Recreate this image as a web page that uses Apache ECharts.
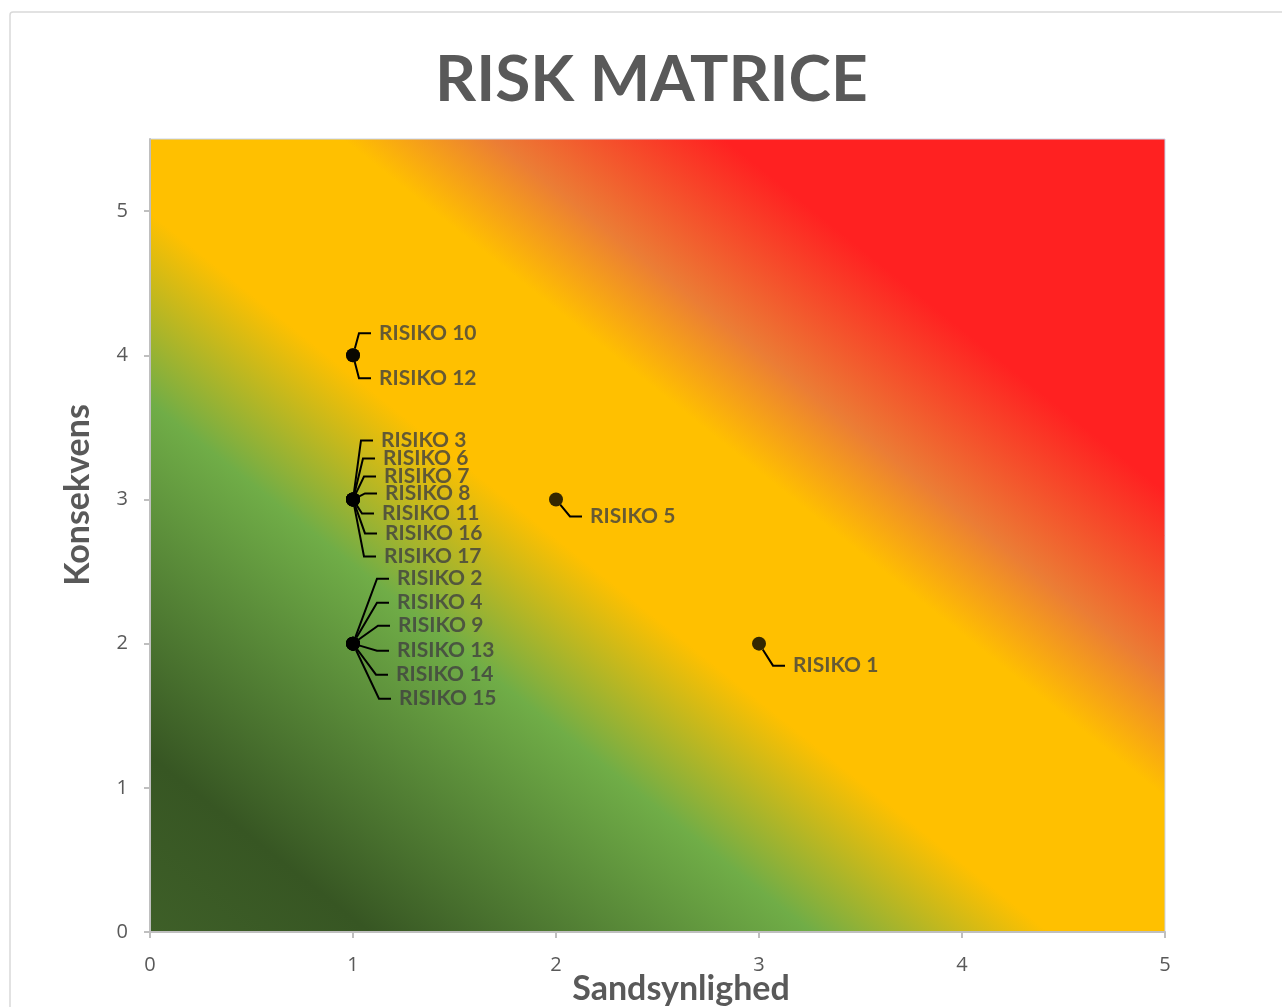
<!DOCTYPE html>
<html><head><meta charset="utf-8">
<script src="https://cdn.jsdelivr.net/npm/echarts@6/dist/echarts.min.js"></script>
<style>html,body{margin:0;padding:0;background:#fff}#c{width:1282px;height:1007px}</style>
</head><body><div id="c"></div>
<script>
// ---- data ----
const riskNames = ['RISIKO 1','RISIKO 2','RISIKO 3','RISIKO 4','RISIKO 5','RISIKO 6','RISIKO 7','RISIKO 8','RISIKO 9',
  'RISIKO 10','RISIKO 11','RISIKO 12','RISIKO 13','RISIKO 14','RISIKO 15','RISIKO 16','RISIKO 17'];
const likelihood  = [3,1,1,1,2,1,1,1,1,1,1,1,1,1,1,1,1];   // Sandsynlighed
const consequence = [2,2,3,2,3,3,3,3,2,4,3,4,2,2,2,3,3];   // Konsekvens
const xTicks = [0,1,2,3,4,5];
const yTicks = [0,1,2,3,4,5];

// ---- label callout placement (styling: pixel offsets of text from its point) ----
const labelOffset = [[34,22],[44,-65],[28,-59],[44,-41],[34,17],[30,-41],[31,-23],[32,-6],[45,-18],
  [26,-22],[29,14],[26,23],[44,7],[43,31],[46,55],[32,34],[31,57]];
const LABEL_GAP = 8;

const chart = echarts.init(document.getElementById('c'));
const gridBox = {left:150, top:139, right:117, bottom:75};
const gw = 1282 - gridBox.left - gridBox.right, gh = 1007 - gridBox.top - gridBox.bottom;
// diagonal gradient: colour bands run with pixel slope s (down-right), bottom-left -> top-right
const s = 0.8;
const k = (gw*s + gh)/(s*s + 1);
const gx2 = k*s/gw, gy2 = 1 - k/gh;

const bg = {
  type:'linear', x:0, y:1, x2:gx2, y2:gy2,
  colorStops:[
    {offset:0.00, color:'#3E5F28'},
    {offset:0.11, color:'#375623'},
    {offset:0.33, color:'#70AD47'},
    {offset:0.448, color:'#FFC000'},
    {offset:0.59, color:'#FFC000'},
    {offset:0.665, color:'#EB7D35'},
    {offset:0.78, color:'#FF2121'},
    {offset:1.00, color:'#FF2121'}
  ]
};

const axisTxt = {color:'#595959', fontSize:20, fontFamily:'Open Sans'};
const lblFont = {fontFamily:'Lato', fontWeight:'bold', fontSize:21, color:'#404040'};

chart.setOption({
  backgroundColor:'#fff',
  animation:false,
  title:{
    text:'RISK MATRICE', left:435, top:48, padding:0,
    textStyle:{fontFamily:'Lato', fontWeight:'bold', fontSize:64, color:'#595959'}
  },
  graphic:[
    {type:'rect', z:-10, shape:{x:10, y:12, width:1400, height:1100, r:3},
     style:{fill:'#fff', stroke:'#D9D9D9', lineWidth:1.5}},
    {type:'text', x:681, y:989, style:{text:'Sandsynlighed', fontFamily:'Lato', fontWeight:'bold', fontSize:34,
      fill:'#595959', align:'center', verticalAlign:'middle'}},
    {type:'text', x:78, y:495, rotation:Math.PI/2, style:{text:'Konsekvens', fontFamily:'Lato', fontWeight:'bold', fontSize:34,
      fill:'#595959', align:'center', verticalAlign:'middle'}}
  ],
  grid:{left:gridBox.left, top:gridBox.top, right:gridBox.right, bottom:gridBox.bottom,
    show:true, backgroundColor:bg, borderColor:'#C9D4E8', borderWidth:1},
  xAxis:{
    type:'value', min:0, max:5, interval:1,
    axisLine:{show:true, lineStyle:{color:'#BFBFBF', width:2}},
    axisTick:{show:true, length:6, lineStyle:{color:'#BFBFBF', width:2}},
    axisLabel:Object.assign({margin:23, customValues:xTicks}, axisTxt),
    splitLine:{show:false}
  },
  yAxis:{
    type:'value', min:0, max:5.5, interval:1,
    axisLine:{show:true, lineStyle:{color:'#BFBFBF', width:2}},
    axisTick:{show:true, length:6, customValues:yTicks, lineStyle:{color:'#BFBFBF', width:2}},
    axisLabel:Object.assign({margin:22, customValues:yTicks,
      formatter:v => (v % 1 === 0 ? String(v) : '')}, axisTxt),
    splitLine:{show:false}
  },
  series:[{
    type:'scatter',
    symbol:'circle', symbolSize:14,
    itemStyle:{color:'#000'},
    data: riskNames.map((n,i)=>({name:n, value:[likelihood[i], consequence[i]]})),
    label:{show:true, formatter:'{s| }{t|{b}}',
      rich:{s:Object.assign({width:LABEL_GAP}, lblFont), t:lblFont}},
    labelLine:{show:true, length2:12, lineStyle:{color:'#000', width:2}},
    labelLayout:function(p){
      const o = labelOffset[p.dataIndex];
      const cx = p.rect.x + p.rect.width/2, cy = p.rect.y + p.rect.height/2;
      return {x: cx + o[0] - LABEL_GAP, y: cy + o[1], align:'left', verticalAlign:'middle', hideOverlap:false, moveOverlap:false};
    },
    emphasis:{disabled:true}
  }]
});
</script></body></html>
